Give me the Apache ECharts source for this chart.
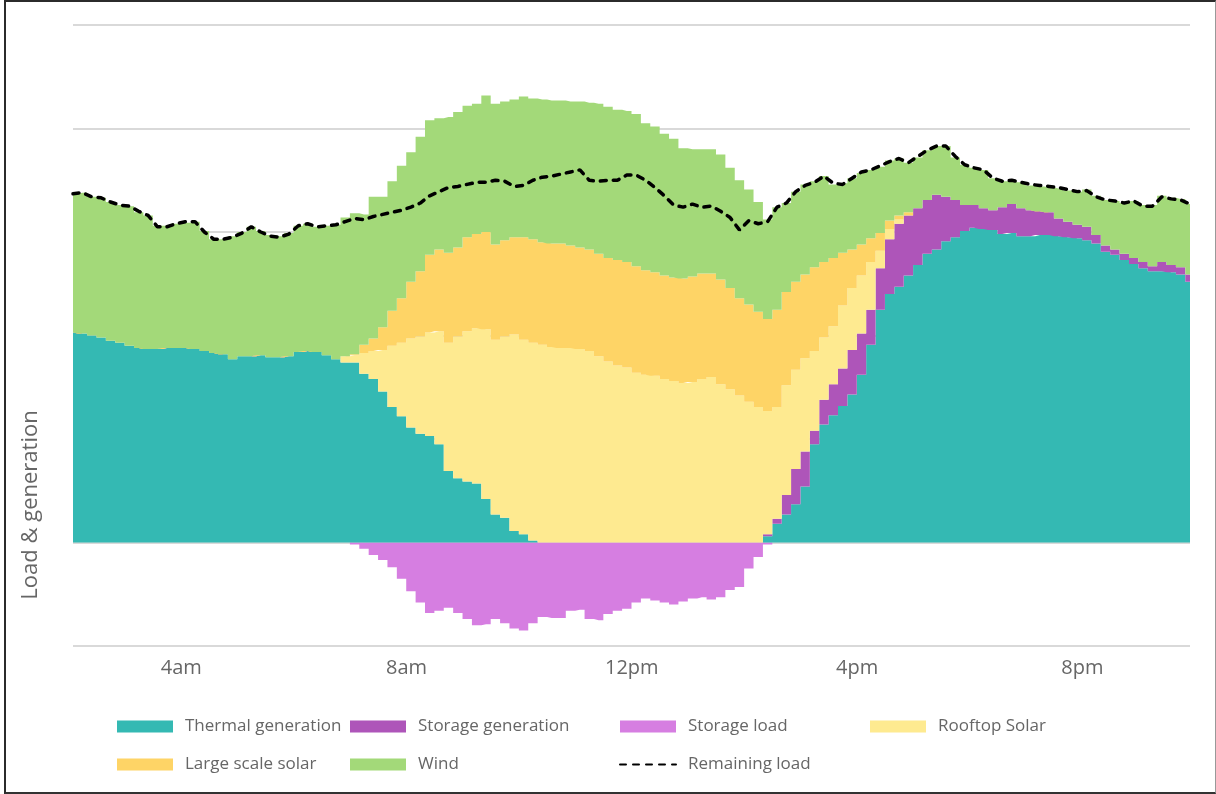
<!DOCTYPE html>
<html>
<head>
<meta charset="utf-8">
<title>Load & generation</title>
<script src="https://cdn.jsdelivr.net/npm/echarts/dist/echarts.min.js"></script>
<style>
  html, body { margin: 0; padding: 0; background: #fff; }
  #chart { width: 1216px; height: 794px; }
  #frame {
    position: absolute; left: 4px; top: 0; width: 1209px; height: 790px;
    border-top: 2px solid #2b2b2b; border-left: 2px solid #2b2b2b;
    border-bottom: 2px solid #333; border-right: 1px solid #999;
    pointer-events: none;
  }
</style>
</head>
<body>
<div id="chart"></div>
<div id="frame"></div>
<script>
// 10 minute intervals, 02:10 -> 22:00 (MW)
const times = [];
for (let m = 130; m <= 1320; m += 10) {
  const h = Math.floor(m / 60), mm = m % 60;
  times.push((h < 10 ? '0' : '') + h + ':' + (mm < 10 ? '0' : '') + mm);
}

// which categories get a label on the x axis
const tickLabels = { '04:00': '4am', '08:00': '8am', '12:00': '12pm', '16:00': '4pm', '20:00': '8pm' };

const thermal = [
  2030, 2020, 2000, 1980, 1950, 1930, 1900, 1880, 1870, 1870,
  1880, 1880, 1880, 1870, 1850, 1830, 1820, 1770, 1800, 1800,
  1810, 1790, 1790, 1800, 1840, 1850, 1840, 1810, 1770, 1740,
  1740, 1630, 1580, 1460, 1310, 1220, 1110, 1050, 1030, 950,
  690, 620, 590, 570, 420, 270, 240, 110, 80, 20,
  0, 0, 0, 0, 0, 0, 0, 0, 0, 0,
  0, 0, 0, 0, 0, 0, 0, 0, 0, 0,
  0, 0, 0, 0, 60, 180, 270, 370, 540, 950,
  1140, 1230, 1320, 1430, 1620, 1910, 2250, 2400, 2470, 2580,
  2680, 2790, 2830, 2910, 2950, 3010, 3040, 3030, 3020, 2980,
  2990, 2960, 2960, 2970, 2970, 2960, 2950, 2940, 2920, 2890,
  2810, 2780, 2730, 2690, 2650, 2620, 2620, 2610, 2590, 2520
];

const storageGen = [
  0, 0, 0, 0, 0, 0, 0, 0, 0, 0,
  0, 0, 0, 0, 0, 0, 0, 0, 0, 0,
  0, 0, 0, 0, 0, 0, 0, 0, 0, 0,
  0, 0, 0, 0, 0, 0, 0, 0, 0, 0,
  0, 0, 0, 0, 0, 0, 0, 0, 0, 0,
  0, 0, 0, 0, 0, 0, 0, 0, 0, 0,
  0, 0, 0, 0, 0, 0, 0, 0, 0, 0,
  0, 0, 0, 0, 20, 50, 190, 340, 340, 130,
  240, 300, 360, 430, 400, 340, 400, 530, 610, 580,
  550, 520, 530, 430, 360, 250, 220, 200, 190, 260,
  280, 270, 250, 230, 220, 170, 150, 130, 130, 80,
  60, 50, 60, 60, 60, 50, 90, 70, 70, 70
];

const storageLoad = [
  0, 0, 0, 0, 0, 0, 0, 0, 0, 0,
  0, 0, 0, 0, 0, 0, 0, 0, 0, 0,
  0, 0, 0, 0, 0, 0, 0, 0, 0, 0,
  -20, -60, -120, -170, -240, -350, -470, -580, -680, -660,
  -630, -680, -740, -800, -790, -740, -780, -830, -850, -780,
  -720, -730, -730, -660, -650, -740, -750, -690, -660, -640,
  -580, -540, -560, -580, -600, -570, -540, -530, -550, -530,
  -460, -430, -250, -140, -20, 0, 0, 0, 0, 0,
  0, 0, 0, 0, 0, 0, 0, 0, 0, 0,
  0, 0, 0, 0, 0, 0, 0, 0, 0, 0,
  0, 0, 0, 0, 0, 0, 0, 0, 0, 0,
  0, 0, 0, 0, 0, 0, 0, 0, 0, 0
];

const rooftop = [
  0, 0, 0, 0, 0, 0, 0, 0, 0, 0,
  0, 0, 0, 0, 0, 0, 0, 0, 0, 0,
  0, 0, 0, 0, 0, 0, 0, 0, 0, 60,
  70, 200, 270, 400, 590, 710, 860, 940, 1000, 1090,
  1240, 1370, 1450, 1500, 1640, 1690, 1750, 1900, 1880, 1910,
  1910, 1890, 1880, 1880, 1870, 1850, 1800, 1750, 1710, 1690,
  1640, 1620, 1610, 1580, 1560, 1540, 1550, 1580, 1600, 1530,
  1480, 1420, 1360, 1310, 1190, 1080, 1060, 960, 900, 770,
  600, 560, 610, 600, 560, 460, 170, 100, 40, 0,
  0, 0, 0, 0, 0, 0, 0, 0, 0, 0,
  0, 0, 0, 0, 0, 0, 0, 0, 0, 0,
  0, 0, 0, 0, 0, 0, 0, 0, 0, 0
];

const largeSolar = [
  0, 0, 0, 0, 0, 0, 0, 0, 0, 0,
  0, 0, 0, 0, 0, 0, 0, 0, 0, 0,
  0, 0, 0, 0, 0, 0, 0, 0, 0, 0,
  10, 80, 120, 220, 340, 430, 550, 630, 750, 790,
  870, 860, 910, 910, 940, 920, 930, 940, 990, 1000,
  990, 1000, 1010, 990, 980, 980, 990, 1000, 1020, 1020,
  1030, 1010, 1000, 1000, 1000, 1010, 1020, 1020, 1000, 1010,
  980, 940, 940, 920, 890, 940, 900, 850, 810, 810,
  730, 660, 510, 370, 300, 230, 170, 80, 40, 30,
  0, 0, 0, 0, 0, 0, 0, 0, 0, 0,
  0, 0, 0, 0, 0, 0, 0, 0, 0, 0,
  0, 0, 0, 0, 0, 0, 0, 0, 0, 0
];

const wind = [
  1340, 1360, 1340, 1350, 1340, 1330, 1350, 1310, 1290, 1190,
  1180, 1200, 1210, 1230, 1160, 1100, 1110, 1190, 1200, 1250,
  1200, 1180, 1170, 1190, 1220, 1230, 1210, 1250, 1300, 1340,
  1360, 1260, 1370, 1260, 1250, 1280, 1250, 1300, 1300, 1270,
  1310, 1310, 1270, 1260, 1320, 1360, 1340, 1330, 1360, 1360,
  1380, 1380, 1380, 1390, 1410, 1420, 1450, 1460, 1450, 1460,
  1470, 1420, 1410, 1370, 1340, 1260, 1230, 1200, 1200, 1210,
  1160, 1140, 1110, 1060, 960, 990, 860, 870, 870, 830,
  830, 710, 670, 690, 690, 660, 640, 580, 550, 480,
  490, 480, 470, 490, 410, 390, 360, 370, 310, 250,
  230, 250, 240, 240, 240, 290, 300, 320, 360, 380,
  440, 470, 490, 550, 550, 590, 640, 650, 660, 680
];

const remainingLoad = [
  3370, 3380, 3340, 3330, 3290, 3260, 3250, 3200, 3160, 3050,
  3050, 3080, 3100, 3100, 3000, 2930, 2930, 2950, 2990, 3050,
  3000, 2960, 2950, 2980, 3060, 3080, 3050, 3060, 3070, 3100,
  3130, 3120, 3150, 3170, 3190, 3210, 3240, 3280, 3350, 3390,
  3430, 3440, 3460, 3480, 3480, 3500, 3490, 3440, 3450, 3500,
  3530, 3540, 3560, 3580, 3600, 3500, 3490, 3500, 3500, 3550,
  3550, 3500, 3430, 3350, 3260, 3240, 3270, 3240, 3250, 3200,
  3140, 3020, 3110, 3080, 3100, 3240, 3280, 3390, 3450, 3480,
  3540, 3470, 3460, 3520, 3580, 3600, 3640, 3680, 3710, 3670,
  3730, 3790, 3830, 3830, 3730, 3650, 3620, 3600, 3520, 3490,
  3500, 3480, 3460, 3450, 3440, 3430, 3410, 3390, 3400, 3340,
  3310, 3300, 3280, 3300, 3250, 3250, 3340, 3320, 3310, 3270
];

const FONT = '"Open Sans", "Noto Sans", sans-serif';
const TEXT_COLOR = '#666666';

// stepped area, one block per interval
function areaSeries(name, data, color, stack) {
  return {
    name: name,
    type: 'line',
    stack: stack,
    step: 'middle',
    data: data,
    symbol: 'none',
    lineStyle: { width: 0 },
    itemStyle: { color: color },
    areaStyle: { color: color, opacity: 1 },
    emphasis: { disabled: true }
  };
}

function legendBlock(left, items) {
  return {
    orient: 'vertical',
    left: left,
    top: 718,
    padding: 0,
    itemWidth: 56,
    itemHeight: 12,
    itemGap: 21,
    selectedMode: false,
    textStyle: { fontSize: 17, color: TEXT_COLOR, fontFamily: FONT, padding: [0, 0, 0, 7] },
    data: items
  };
}

const chart = echarts.init(document.getElementById('chart'), null, { renderer: 'canvas' });

chart.setOption({
  animation: false,
  backgroundColor: '#fff',
  grid: { left: 73, right: 26, top: 25, bottom: 148, containLabel: false },
  xAxis: {
    type: 'category',
    boundaryGap: false,
    data: times,
    axisLine: { show: false },
    axisTick: { show: false },
    splitLine: { show: false },
    axisLabel: {
      interval: (idx, val) => val in tickLabels,
      formatter: val => tickLabels[val] || '',
      color: TEXT_COLOR,
      fontSize: 20,
      fontFamily: FONT,
      margin: 12,
      padding: [0, 0, 0, 10]
    }
  },
  yAxis: {
    type: 'value',
    min: -1000,
    max: 5000,
    interval: 1000,
    axisLabel: { show: false },
    axisLine: { show: false },
    axisTick: { show: false },
    splitLine: { lineStyle: { color: '#d9d9d9', width: 2 } }
  },
  legend: [
    legendBlock(117, [{ name: 'Thermal generation', icon: 'rect' }, { name: 'Large scale solar', icon: 'rect' }]),
    legendBlock(350, [{ name: 'Storage generation', icon: 'rect' }, { name: 'Wind', icon: 'rect' }]),
    legendBlock(619, [{ name: 'Storage load', icon: 'rect' }, { name: 'Remaining load', itemStyle: { opacity: 0 } }]),
    legendBlock(870, [{ name: 'Rooftop Solar', icon: 'rect' }])
  ],
  graphic: [{
    type: 'text',
    x: 31,
    y: 505,
    rotation: Math.PI / 2,
    style: {
      text: 'Load & generation',
      fill: TEXT_COLOR,
      font: '22px ' + FONT,
      textAlign: 'center',
      textVerticalAlign: 'middle'
    }
  }],
  series: [
    areaSeries('Storage load', storageLoad, '#d67ee1', null),
    areaSeries('Thermal generation', thermal, '#34b9b3', 'gen'),
    areaSeries('Storage generation', storageGen, '#ae55b9', 'gen'),
    areaSeries('Rooftop Solar', rooftop, '#feea90', 'gen'),
    areaSeries('Large scale solar', largeSolar, '#fed466', 'gen'),
    areaSeries('Wind', wind, '#a3d979', 'gen'),
    {
      name: 'Remaining load',
      type: 'line',
      data: remainingLoad,
      symbol: 'none',
      z: 5,
      itemStyle: { color: '#000' },
      lineStyle: { color: '#000', width: 3.5, type: [6, 7], cap: 'round' },
      emphasis: { disabled: true }
    }
  ]
});
</script>
</body>
</html>
